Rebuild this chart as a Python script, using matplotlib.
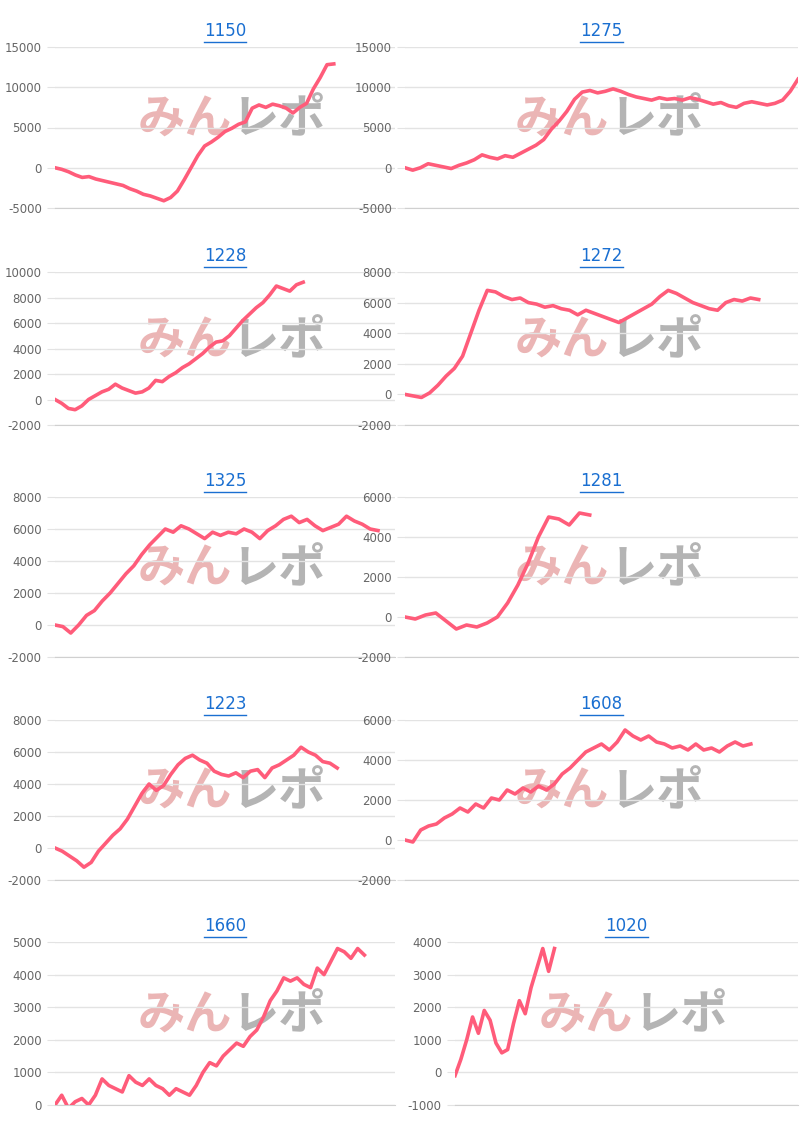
import matplotlib
matplotlib.use("Agg")
import matplotlib.pyplot as plt

plt.rcParams['axes.unicode_minus'] = False

titles = ["1150", "1275", "1228", "1272", "1325", "1281", "1223", "1608", "1660", "1020"]

s1150 = [0, -200, -500, -900, -1200, -1100, -1400, -1600, -1800, -2000, -2200, -2600, -2900, -3300, -3500, -3800, -4100, -3700, -2900, -1500, 0, 1500, 2700, 3200, 3800, 4500, 4900, 5400, 5700, 7400, 7800, 7500, 7900, 7700, 7400, 6800, 7500, 8000, 9800, 11200, 12800, 12900]
s1275 = [0, -300, 0, 500, 300, 100, -100, 300, 600, 1000, 1600, 1300, 1100, 1500, 1300, 1800, 2300, 2800, 3500, 4800, 5800, 7000, 8500, 9400, 9600, 9300, 9500, 9800, 9500, 9100, 8800, 8600, 8400, 8700, 8500, 8600, 8400, 8700, 8500, 8200, 7900, 8100, 7700, 7500, 8000, 8200, 8000, 7800, 8000, 8400, 9500, 11000]
s1228 = [0, -300, -700, -800, -500, 0, 300, 600, 800, 1200, 900, 700, 500, 600, 900, 1500, 1400, 1800, 2100, 2500, 2800, 3200, 3600, 4100, 4500, 4600, 5000, 5600, 6200, 6700, 7200, 7600, 8200, 8900, 8700, 8500, 9000, 9200]
s1272 = [0, -100, -200, 100, 600, 1200, 1700, 2500, 4000, 5500, 6800, 6700, 6400, 6200, 6300, 6000, 5900, 5700, 5800, 5600, 5500, 5200, 5500, 5300, 5100, 4900, 4700, 5000, 5300, 5600, 5900, 6400, 6800, 6600, 6300, 6000, 5800, 5600, 5500, 6000, 6200, 6100, 6300, 6200]
s1325 = [0, -100, -500, 0, 600, 900, 1500, 2000, 2600, 3200, 3700, 4400, 5000, 5500, 6000, 5800, 6200, 6000, 5700, 5400, 5800, 5600, 5800, 5700, 6000, 5800, 5400, 5900, 6200, 6600, 6800, 6400, 6600, 6200, 5900, 6100, 6300, 6800, 6500, 6300, 6000, 5900]
s1281 = [0, -100, 100, 200, -200, -600, -400, -500, -300, 0, 700, 1600, 2700, 4000, 5000, 4900, 4600, 5200, 5100]
s1223 = [0, -200, -500, -800, -1200, -900, -200, 300, 800, 1200, 1800, 2600, 3400, 4000, 3600, 3900, 4600, 5200, 5600, 5800, 5500, 5300, 4800, 4600, 4500, 4700, 4400, 4800, 4900, 4400, 5000, 5200, 5500, 5800, 6300, 6000, 5800, 5400, 5300, 5000]
s1608 = [0, -100, 500, 700, 800, 1100, 1300, 1600, 1400, 1800, 1600, 2100, 2000, 2500, 2300, 2600, 2400, 2700, 2500, 2800, 3300, 3600, 4000, 4400, 4600, 4800, 4500, 4900, 5500, 5200, 5000, 5200, 4900, 4800, 4600, 4700, 4500, 4800, 4500, 4600, 4400, 4700, 4900, 4700, 4800]
s1660 = [0, 300, -100, 100, 200, 0, 300, 800, 600, 500, 400, 900, 700, 600, 800, 600, 500, 300, 500, 400, 300, 600, 1000, 1300, 1200, 1500, 1700, 1900, 1800, 2100, 2300, 2700, 3200, 3500, 3900, 3800, 3900, 3700, 3600, 4200, 4000, 4400, 4800, 4700, 4500, 4800, 4600]
s1020 = [-100, 400, 1000, 1700, 1200, 1900, 1600, 900, 600, 700, 1500, 2200, 1800, 2600, 3200, 3800, 3100, 3800]
series = [s1150, s1275, s1228, s1272, s1325, s1281, s1223, s1608, s1660, s1020]

frac = [0.82, 1.0, 0.73, 0.90, 0.95, 0.47, 0.83, 0.88, 0.91, 0.29]
ylims = [(-5000, 15000), (-5000, 15000), (-2000, 10000), (-2000, 8000), (-2000, 8000),
         (-2000, 6000), (-2000, 8000), (-2000, 6000), (0, 5000), (-1000, 4000)]
steps = [5000, 5000, 2000, 2000, 2000, 2000, 2000, 2000, 1000, 1000]

W, H = 800, 1127
fig = plt.figure(figsize=(8, 11.27), dpi=100)
rows = [(47, 208), (272, 425), (497, 657), (720, 880), (942, 1105)]
cols = [(55, 395), (405, 798)]

for i in range(10):
    r, c = divmod(i, 2)
    top, bot = rows[r]
    left, right = cols[c]
    if i == 9:
        left = 455
    ax = fig.add_axes([left / W, 1 - bot / H, (right - left) / W, (bot - top) / H])
    ys = series[i]
    n = len(ys)
    xmax = (n - 1) / frac[i]
    ax.plot(range(n), ys, color="#ff5c7a", lw=2.6, solid_joinstyle="round", zorder=3)
    ax.set_xlim(0, xmax)
    lo, hi = ylims[i]
    ax.set_ylim(lo, hi)
    ax.set_yticks(range(lo, hi + 1, steps[i]))
    ax.set_xticks([])
    ax.grid(axis="y", color="#e3e3e3", lw=1)
    for s in ["top", "right", "left"]:
        ax.spines[s].set_visible(False)
    ax.spines["bottom"].set_color("#d0d0d0")
    ax.tick_params(axis="y", length=6, color="#e3e3e3", labelsize=8.5, labelcolor="#666666")
    ax.set_title(titles[i], color="#1a6fd1", fontsize=12, pad=8)
    # watermark
    ax.text(0.52, 0.55, "みん", transform=ax.transAxes, ha="right", va="center",
            fontsize=34, fontweight="bold", style="italic", color="#ebb5b5",
            family=["Noto Sans CJK JP"], zorder=1)
    ax.text(0.52, 0.55, "レポ", transform=ax.transAxes, ha="left", va="center",
            fontsize=34, fontweight="bold", style="italic", color="#b4b4b4",
            family=["Noto Sans CJK JP"], zorder=1)

fig.canvas.draw()
for ax in fig.axes:
    bb = ax.title.get_window_extent()
    x0, x1 = bb.x0 / W, bb.x1 / W
    y = bb.y0 / H - 0.002
    fig.add_artist(plt.Line2D([x0, x1], [y, y], color="#1a6fd1", lw=1, transform=fig.transFigure))

fig.savefig("out.png", dpi=100)
